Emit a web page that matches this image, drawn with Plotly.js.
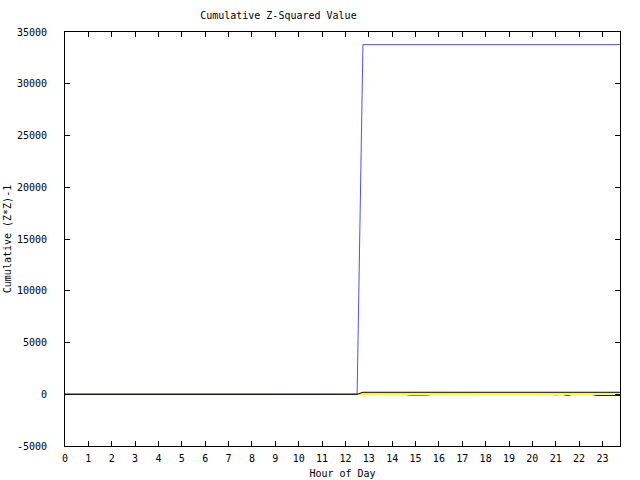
<!DOCTYPE html>
<html>
<head>
<meta charset="utf-8">
<script src="https://cdn.plot.ly/plotly-3.0.1.min.js"></script>
<style>html,body{margin:0;padding:0;background:#fff;}#chart{width:640px;height:480px;}</style>
</head>
<body>
<div id="chart"></div>
<script>
// Hour of day (x) and cumulative (Z*Z)-1 values (y) for each series
const greenHours = [0, 14.5, 14.75, 15.5, 15.75, 23.75];
const greenVals  = [0, 0, -100, -100, 0, 0];
const cyanHours  = [0, 20.75, 21, 21.25, 23.75];
const cyanVals   = [0, 0, -100, 0, 0];
const navyHours  = [0, 21.25, 21.5, 21.75, 22.5, 22.75, 23.75];
const navyVals   = [0, 0, -120, 0, 0, -120, -120];
const yellowHours = [0, 12.5, 12.75, 23.75];
const yellowVals  = [0, 0, 30, 30];
const blueHours = [0, 12.5, 12.75, 23.75];
const blueVals  = [0, 0, 33780, 33780];
const blackHours = [0, 12.5, 12.75, 23.75];
const blackVals  = [0, 0, 190, 190];
const xTicks = [0,1,2,3,4,5,6,7,8,9,10,11,12,13,14,15,16,17,18,19,20,21,22,23];
const yTicks = [-5000,0,5000,10000,15000,20000,25000,30000,35000];

const mk = (x, y, color, w) => ({x: x, y: y, type: 'scatter', mode: 'lines',
  line: {color: color, width: w}, hoverinfo: 'skip', showlegend: false});

const traces = [
  mk(greenHours, greenVals, '#00a000', 1),
  mk(cyanHours, cyanVals, '#40e0d0', 1),
  mk(navyHours, navyVals, '#0000a0', 1),
  mk(yellowHours, yellowVals, '#ffff30', 2),
  mk(blueHours, blueVals, '#5050f0', 1),
  mk(blackHours, blackVals, '#000000', 1)
];

const font = {family: '"DejaVu Sans Mono", monospace', size: 10, color: '#000'};

const layout = {
  width: 640, height: 480,
  margin: {l: 65, r: 19.5, t: 32, b: 34, pad: 0},
  paper_bgcolor: '#fff', plot_bgcolor: '#fff',
  font: font,
  showlegend: false,
  title: {text: 'Cumulative Z-Squared Value', font: font, xref: 'container', yref: 'container',
          x: 0.435, y: 0.967, xanchor: 'center', yanchor: 'middle'},
  xaxis: {range: [0, 23.75], tickvals: xTicks, ticktext: xTicks.map(String),
          ticks: 'inside', ticklen: 5, tickcolor: '#000', tickwidth: 1,
          showline: true, linecolor: '#000', linewidth: 1, mirror: 'ticks',
          showgrid: false, zeroline: false, tickfont: font, ticklabelstandoff: 3,
          title: {text: 'Hour of Day', font: font, standoff: 6}},
  yaxis: {range: [-5000, 35000], tickvals: yTicks, ticktext: yTicks.map(String),
          ticks: 'inside', ticklen: 5, tickcolor: '#000', tickwidth: 1,
          showline: true, linecolor: '#000', linewidth: 1, mirror: 'ticks',
          showgrid: false, zeroline: false, tickfont: font, ticklabelstandoff: 15,
          title: {text: 'Cumulative (Z*Z)-1', font: font, standoff: 3}}
};

Plotly.newPlot('chart', traces, layout, {staticPlot: true, displayModeBar: false});
</script>
</body>
</html>
